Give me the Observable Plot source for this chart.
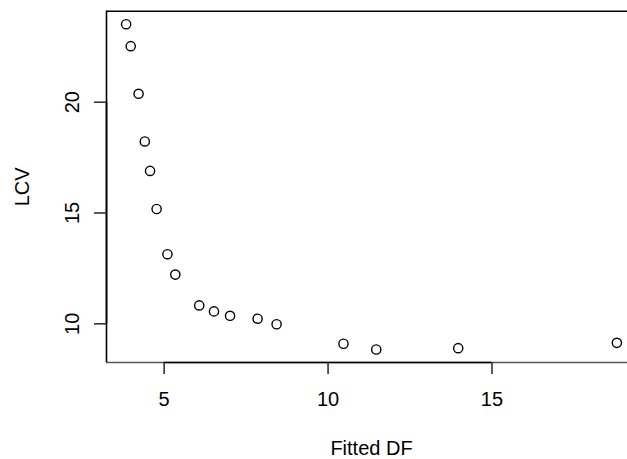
<!DOCTYPE html>
<html><head><meta charset="utf-8">
<script src="https://cdn.jsdelivr.net/npm/d3@7"></script>
<script src="https://cdn.jsdelivr.net/npm/@observablehq/plot@0.6"></script>
<style>html,body{margin:0;padding:0;background:#fff;overflow:hidden}</style>
</head><body><div id="chart"></div>
<script>
const fittedDF = [3.84, 3.98, 4.22, 4.41, 4.57, 4.77, 5.10, 5.34, 6.07, 6.52, 7.01, 7.85, 8.43, 10.47, 11.47, 13.97, 18.81];
const lcv      = [23.52, 22.53, 20.38, 18.23, 16.90, 15.18, 13.14, 12.22, 10.83, 10.56, 10.36, 10.23, 9.98, 9.10, 8.84, 8.90, 9.14];
const xTicks = [5, 10, 15];
const yTicks = [10, 15, 20];
const xLabel = "Fitted DF";
const yLabel = "LCV";

const points = fittedDF.map((x, i) => ({x, y: lcv[i]}));
function pad(e) { const r = e[1] - e[0]; return [e[0] - 0.04 * r, e[1] + 0.04 * r]; }
const xd = pad(d3.extent(fittedDF));
const yd = pad(d3.extent(lcv));
const W = 627, H = 459, L = 106, R = 636, T = 10.7, B = 362;
const font = "'Liberation Sans', Arial, Helvetica, sans-serif";
const lw = 1.6;

const chart = Plot.plot({
  width: W, height: H,
  marginLeft: L, marginRight: W - R, marginTop: T, marginBottom: H - B,
  x: {domain: xd, range: [L, R], axis: null},
  y: {domain: yd, range: [B, T], axis: null},
  style: {fontFamily: font, fontSize: "20px", background: "white", overflow: "hidden"},
  marks: [
    // box
    Plot.ruleY([yd[0]], {x1: xd[0], x2: xd[1], stroke: "#555", strokeWidth: lw}),
    Plot.ruleY([yd[1]], {x1: xd[0], x2: xd[1], stroke: "black", strokeWidth: lw}),
    Plot.ruleX([xd[0]], {y1: yd[0], y2: yd[1], stroke: "black", strokeWidth: lw}),
    Plot.ruleX([xd[1]], {y1: yd[0], y2: yd[1], stroke: "black", strokeWidth: lw}),
    // axis lines
    Plot.ruleY([yd[0]], {x1: xTicks[0], x2: xTicks[xTicks.length - 1], stroke: "black", strokeWidth: lw}),
    Plot.ruleX([xd[0]], {y1: yTicks[0], y2: yTicks[yTicks.length - 1], stroke: "black", strokeWidth: lw}),
    Plot.axisX({ticks: xTicks, tickSize: 12, tickPadding: 17.7, fontSize: 20, label: null,
      tickFormat: d => String(d), stroke: "#333", strokeWidth: lw, fill: "black"}),
    Plot.axisY({ticks: yTicks, tickSize: 12, label: null, tickFormat: () => "",
      stroke: "#333", strokeWidth: lw}),
    Plot.text(yTicks, {x: () => xd[0], y: d => d, text: d => String(d), rotate: -90,
      dx: -28, lineAnchor: "bottom", textAnchor: "middle", fontSize: 20, fill: "black"}),
    Plot.text([xLabel], {x: () => (xd[0] + xd[1]) / 2, y: () => yd[0], text: d => d,
      dy: 92.3, lineAnchor: "bottom", textAnchor: "middle", fontSize: 20, fill: "black"}),
    Plot.text([yLabel], {x: () => xd[0], y: () => (yd[0] + yd[1]) / 2, text: d => d,
      rotate: -90, dx: -77.5, lineAnchor: "bottom", textAnchor: "middle", fontSize: 20, fill: "black"}),
    // points
    Plot.dot(points, {x: "x", y: "y", r: 4.6, stroke: "black", strokeWidth: 1.4, fill: "none"})
  ]
});
document.getElementById("chart").appendChild(chart);
</script>
</body></html>
